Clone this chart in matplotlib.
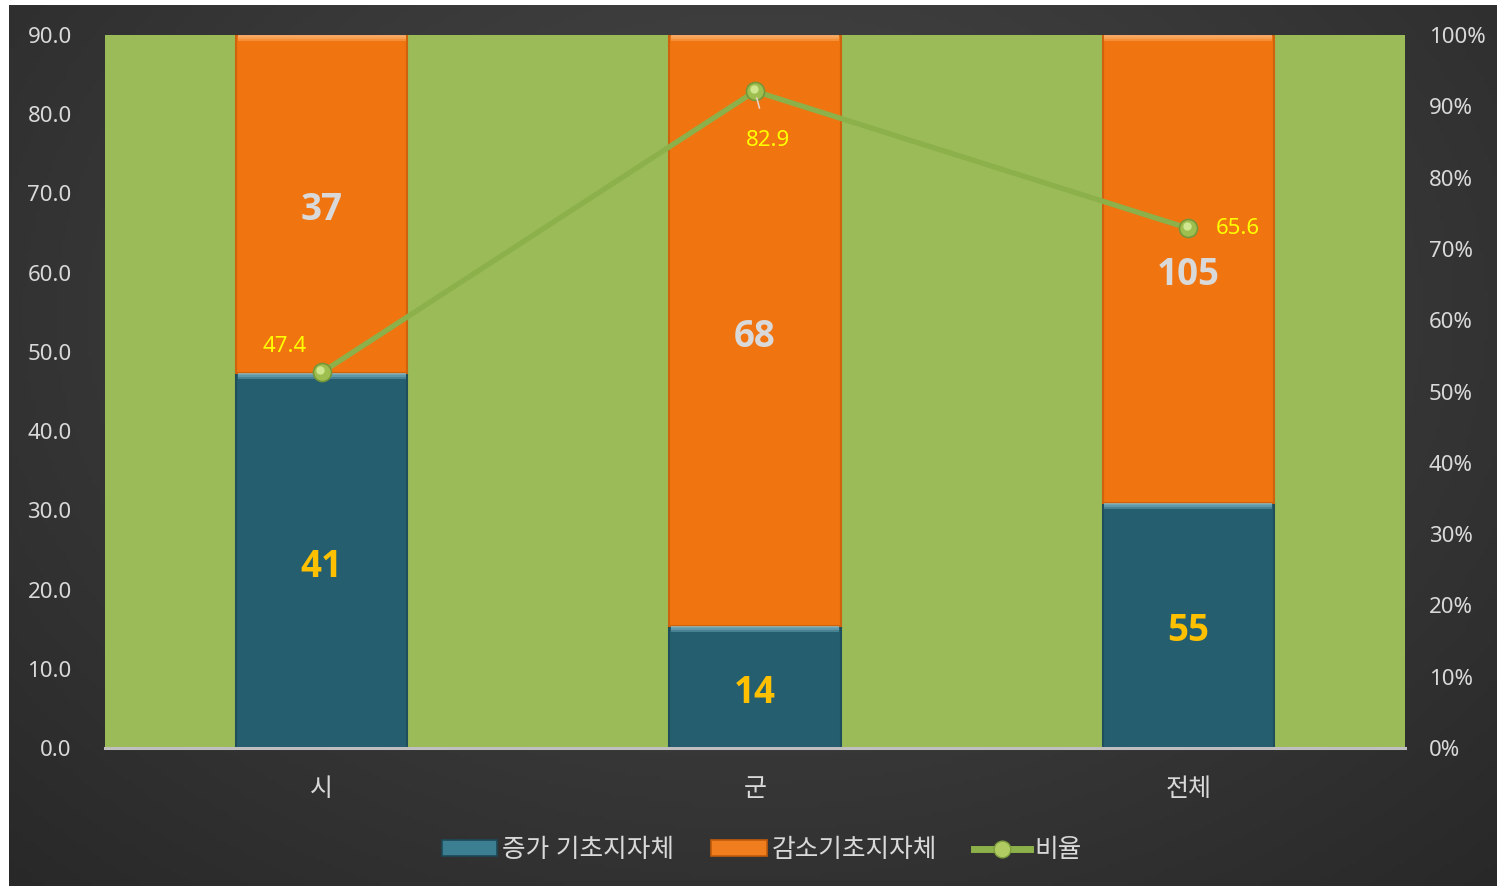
import numpy as np
import matplotlib
matplotlib.use("Agg")
import matplotlib.pyplot as plt
import matplotlib.transforms as mtransforms
from matplotlib.patches import Patch
from matplotlib.lines import Line2D

plt.rcParams['font.family'] = ['Noto Sans', 'Noto Sans CJK KR', 'DejaVu Sans']

categories = ['시', '군', '전체']
increase = [41, 14, 55]      # 증가 기초지자체
decrease = [37, 68, 105]     # 감소기초지자체
ratio = [47.4, 82.9, 65.6]   # 비율
left_ticks = [0, 10, 20, 30, 40, 50, 60, 70, 80, 90]
right_ticks = [0, 10, 20, 30, 40, 50, 60, 70, 80, 90, 100]
legend_labels = ['증가 기초지자체', '감소기초지자체', '비율']

W, H = 1497, 886
fig = plt.figure(figsize=(W / 100, H / 100), dpi=100, facecolor='white')

# dark radial gradient background
bg = fig.add_axes([9 / W, 0, 1 - 9 / W, 1 - 5 / H])
bg.set_axis_off()
yy, xx = np.mgrid[0:200, 0:340]
cx, cy = 170, 70
d = np.sqrt(((xx - cx) / 260.0) ** 2 + ((yy - cy) / 190.0) ** 2)
d = np.clip(d, 0, 1)
v = 0.29 - 0.14 * d
img = np.dstack([v, v, v])
bg.imshow(img, aspect='auto', extent=[0, 1, 0, 1], origin='upper')
bg.set_xlim(0, 1)
bg.set_ylim(0, 1)

ax = fig.add_axes([105 / W, 1 - 748 / H, 1300 / W, 713 / H])
ax2 = ax.twinx()
ax.set_zorder(ax2.get_zorder() + 1)
ax.patch.set_visible(False)
ax2.patch.set_visible(True)
ax2.patch.set_facecolor('#9BBB59')

x = np.arange(len(categories))
inc = np.array(increase, float)
dec = np.array(decrease, float)
tot = inc + dec
p_inc = inc / tot * 100
p_dec = dec / tot * 100

bw = 0.395
teal = '#255E6F'
orange = '#F07410'

ax2.bar(x, p_inc, bw, color=teal, edgecolor='#1E4D5B', linewidth=1.5, zorder=2)
ax2.bar(x, p_dec, bw, bottom=p_inc, color=orange, edgecolor='#CF620C', linewidth=1.5, zorder=2)
# bevel highlights at segment tops (layered for a soft gradient)
for h, a in [(0.85, 0.35), (0.55, 0.35), (0.3, 0.35)]:
    ax2.bar(x, h, bw * 0.98, bottom=p_inc - h, color='#8CC3D3', alpha=a, linewidth=0, zorder=3)
    ax2.bar(x, h, bw * 0.98, bottom=p_inc + p_dec - h, color='#FFC285', alpha=a, linewidth=0, zorder=3)

for i in range(len(x)):
    ax2.annotate(f'{increase[i]}', xy=(x[i], p_inc[i] / 2), xytext=(0, -6),
                 textcoords='offset pixels', ha='center', va='center',
                 color='#FFC000', fontsize=26.5, fontweight='bold',
                 family=['Open Sans', 'DejaVu Sans'], zorder=5)
    ax2.annotate(f'{decrease[i]}', xy=(x[i], p_inc[i] + p_dec[i] / 2), xytext=(0, -6),
                 textcoords='offset pixels', ha='center', va='center',
                 color='#D9D9D9', fontsize=26.5, fontweight='bold',
                 family=['Open Sans', 'DejaVu Sans'], zorder=5)

ax.plot(x, ratio, color='#8CB04A', linewidth=3.8, zorder=6,
        marker='o', markersize=13, markerfacecolor='#9EBF50',
        markeredgecolor='#76963A', markeredgewidth=1.2)
hl = mtransforms.offset_copy(ax.transData, fig=fig, x=-1.5, y=2.5, units='dots')
ax.plot(x, ratio, linestyle='none', marker='o', markersize=6,
        markerfacecolor='#CFE68F', markeredgewidth=0, zorder=7, transform=hl)

offsets = [(-37, 26), (13, -49), (49, 0)]
for i in range(len(x)):
    dx, dy = offsets[i]
    kw = {}
    if i == 1:
        kw['arrowprops'] = dict(arrowstyle='-', color='#E8D0C0', lw=1.2, shrinkA=14, shrinkB=5)
    ax.annotate(f'{ratio[i]:.1f}', xy=(x[i], ratio[i]), xytext=(dx, dy),
                textcoords='offset pixels', ha='center', va='center',
                color='#FFFF00', fontsize=16, zorder=8, **kw)

ax.set_xlim(-0.5, len(x) - 0.5)
ax.set_ylim(0, 90)
ax2.set_ylim(0, 100)
ax.set_yticks(left_ticks)
ax.set_yticklabels([f'{t:.1f}' for t in left_ticks])
ax2.set_yticks(right_ticks)
ax2.set_yticklabels([f'{t}%' for t in right_ticks])
ax.set_xticks(x)
ax.set_xticklabels(categories)

for a in (ax, ax2):
    for s in a.spines.values():
        s.set_visible(False)
ax.tick_params(axis='y', length=0, pad=24, labelsize=16, labelcolor='#D9D9D9')
ax2.tick_params(axis='y', length=0, pad=17, labelsize=16, labelcolor='#D9D9D9')
ax.tick_params(axis='x', length=0, pad=21, labelsize=18, labelcolor='#D9D9D9')
ax.axhline(0, color='#BFBFBF', linewidth=2.2, zorder=9, clip_on=False)

handles = [
    Patch(facecolor='#3C7F93', edgecolor='#1C4A57', linewidth=1.2),
    Patch(facecolor='#F07E1E', edgecolor='#C25A0A', linewidth=1.2),
    Line2D([0], [0], color='#8CB04A', linewidth=5, marker='o', markersize=12,
           markerfacecolor='#AFCB62', markeredgecolor='#7E9E3E'),
]
leg = fig.legend(handles, legend_labels, loc='center', bbox_to_anchor=(0.509, 0.04),
                 ncol=3, frameon=False, fontsize=18.5, handlelength=2.15, handleheight=0.55,
                 handletextpad=0.2, columnspacing=1.45)
for t in leg.get_texts():
    t.set_color('#D9D9D9')

fig.savefig('out.png', dpi=100, facecolor=fig.get_facecolor())
